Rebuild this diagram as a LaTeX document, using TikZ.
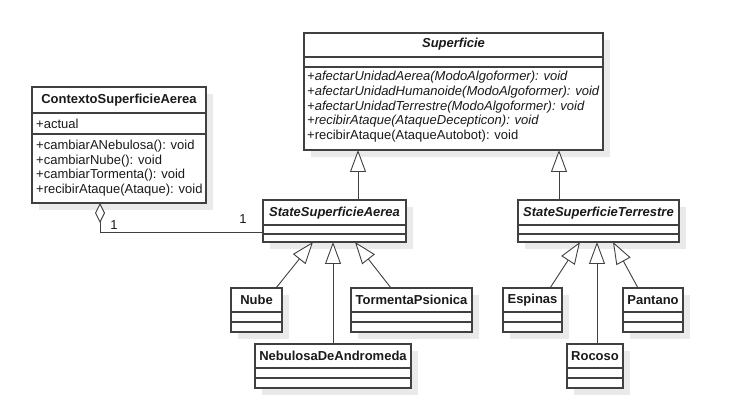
\documentclass[tikz,border=0pt]{standalone}
\usepackage{fontspec}
\setmainfont{Liberation Sans}
\usetikzlibrary{arrows.meta,shadows}
\definecolor{umlline}{HTML}{404040}
\definecolor{umlshadow}{HTML}{EAEAEA}
\definecolor{umltext}{HTML}{1A1A1A}
\tikzset{
  cls/.style={draw=umlline, line width=1.1pt, fill=white, anchor=north west,
    inner sep=0pt, outer sep=0pt,
    drop shadow={shadow xshift=7pt, shadow yshift=-7pt, fill=umlshadow, opacity=1}},
  ctitle/.style={font=\fontsize{13}{15}\selectfont\bfseries, text=umltext, inner sep=0pt},
  txt/.style={font=\fontsize{13}{15}\selectfont, text=umltext, inner sep=0pt, anchor=west},
  divider/.style={draw=umlline, line width=1.1pt},
  gen/.style={draw=umlline, line width=0.9pt, -{Triangle[open, length=22pt, width=16pt, fill=white]}},
  agg/.style={draw=umlline, line width=0.9pt, {Diamond[open, length=20pt, width=10pt, fill=white]}-},
  mult/.style={font=\fontsize{13}{15}\selectfont, text=umltext, inner sep=0pt},
}
\begin{document}
\begin{tikzpicture}[x=1pt, y=-1pt]
\useasboundingbox[fill=white] (0,0) rectangle (754,419);

% ---------- ContextoSuperficieAerea
\node[cls, minimum width=174pt, minimum height=116pt] (ctx) at (32,87) {};
\draw[divider] (ctx.west |- 0,113) -- (ctx.east |- 0,113);
\draw[divider] (ctx.west |- 0,134) -- (ctx.east |- 0,134);
\node[ctitle] (ctxT) at (ctx.north |- 0,100) {ContextoSuperficieAerea};
\node[txt] (ctxA) at (36,123.5) {+actual};
\foreach \t [count=\i] in {+cambiarANebulosa(): void, +cambiarNube(): void, +cambiarTormenta(): void, +recibirAtaque(Ataque): void}
  \node[txt] (ctxM\i) at (36,{146.5+14.4*(\i-1)}) {\t};

% ---------- Superficie
\node[cls, minimum width=299pt, minimum height=117pt] (sup) at (304,33) {};
\draw[divider] (sup.west |- 0,57) -- (sup.east |- 0,57);
\draw[divider] (sup.west |- 0,67) -- (sup.east |- 0,67);
\node[ctitle, font=\fontsize{13}{15}\selectfont\bfseries\itshape] (supT) at (sup.north |- 0,44.5) {Superficie};
\foreach \t [count=\i] in {\itshape +afectarUnidadAerea(ModoAlgoformer): void, \itshape +afectarUnidadHumanoide(ModoAlgoformer): void, \itshape +afectarUnidadTerrestre(ModoAlgoformer): void, \itshape +recibirAtaque(AtaqueDecepticon): void, +recibirAtaque(AtaqueAutobot): void}
  \node[txt] (supM\i) at (307,{77.5+14.6*(\i-1)}) {\t};

% ---------- StateSuperficieAerea
\node[cls, minimum width=143pt, minimum height=42pt] (aer) at (263,200) {};
\draw[divider] (aer.west |- 0,225) -- (aer.east |- 0,225);
\draw[divider] (aer.west |- 0,234) -- (aer.east |- 0,234);
\node[ctitle, font=\fontsize{13}{15}\selectfont\bfseries\itshape] (aerT) at (aer.north |- 0,213) {StateSuperficieAerea};

% ---------- StateSuperficieTerrestre
\node[cls, minimum width=161pt, minimum height=42pt] (ter) at (518,200) {};
\draw[divider] (ter.west |- 0,225) -- (ter.east |- 0,225);
\draw[divider] (ter.west |- 0,234) -- (ter.east |- 0,234);
\node[ctitle, font=\fontsize{13}{15}\selectfont\bfseries\itshape] (terT) at (ter.north |- 0,213) {StateSuperficieTerrestre};

% ---------- Leaf classes (first row)
\node[cls, minimum width=51pt, minimum height=44pt] (nube) at (231,288) {};
\node[cls, minimum width=121pt, minimum height=44pt] (torm) at (351,288) {};
\node[cls, minimum width=59pt, minimum height=44pt] (esp) at (503,288) {};
\node[cls, minimum width=60pt, minimum height=44pt] (pan) at (623,288) {};
\foreach \n in {nube,torm,esp,pan}{
  \draw[divider] (\n.west |- 0,312) -- (\n.east |- 0,312);
  \draw[divider] (\n.west |- 0,322) -- (\n.east |- 0,322);
}
\node[ctitle] (nubeT) at (nube.north |- 0,300) {Nube};
\node[ctitle] (tormT) at (torm.north |- 0,300) {TormentaPsionica};
\node[ctitle] (espT) at (esp.north |- 0,300) {Espinas};
\node[ctitle] (panT) at (pan.north |- 0,300) {Pantano};

% ---------- Leaf classes (second row)
\node[cls, minimum width=156pt, minimum height=44pt] (neb) at (255,344) {};
\node[cls, minimum width=56pt, minimum height=44pt] (roc) at (567,344) {};
\foreach \n in {neb,roc}{
  \draw[divider] (\n.west |- 0,368) -- (\n.east |- 0,368);
  \draw[divider] (\n.west |- 0,378) -- (\n.east |- 0,378);
}
\node[ctitle] (nebT) at (neb.north |- 0,356) {NebulosaDeAndromeda};
\node[ctitle] (rocT) at (roc.north |- 0,356) {Rocoso};

% ---------- Generalizations
\draw[gen] (aer.north -| 358,0) -- (sup.south -| 358,0);
\draw[gen] (ter.north -| 559,0) -- (sup.south -| 559,0);
\draw[gen] (nube.north -| 276,0) -- (aer.south -| 313,0);
\draw[gen] (neb.north -| 333,0) -- (aer.south -| 333,0);
\draw[gen] (torm.north -| 391,0) -- (aer.south -| 355,0);
\draw[gen] (esp.north -| 550,0) -- (ter.south -| 580,0);
\draw[gen] (roc.north -| 597,0) -- (ter.south -| 597,0);
\draw[gen] (pan.north -| 638,0) -- (ter.south -| 613,0);

% ---------- Aggregation
\draw[agg] (ctx.south -| 100,0) |- (aer.west |- 0,232);
\node[mult] (m1) at (114,225) {1};
\node[mult] (m2) at (243,219) {1};
\end{tikzpicture}
\end{document}
